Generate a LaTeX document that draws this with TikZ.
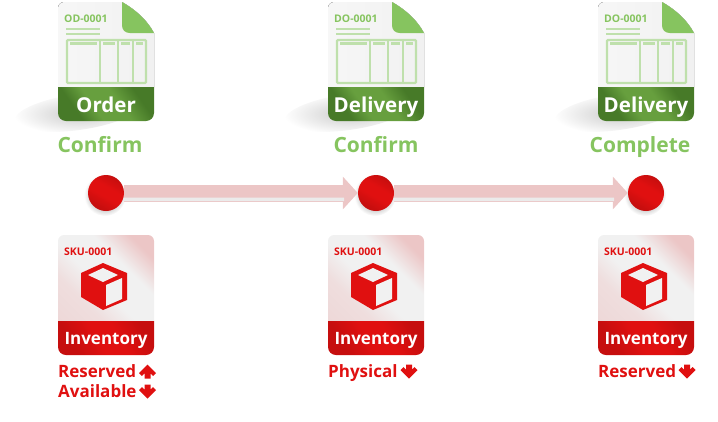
\documentclass[tikz,border=0pt]{standalone}
\usepackage{fontspec}
\setmainfont{Open Sans}
\usetikzlibrary{arrows.meta,backgrounds}
\definecolor{leaf}{HTML}{86C45F}
\definecolor{leafpale}{HTML}{BFE0AC}
\definecolor{leafdark}{HTML}{477A28}
\definecolor{leafmid}{HTML}{679F3E}
\definecolor{redmain}{HTML}{E01010}
\definecolor{reddark}{HTML}{C60E0E}
\definecolor{redpale}{HTML}{ECC6C6}
\definecolor{sheet}{HTML}{F1F1F1}
\pgfdeclarehorizontalshading{cardshade}{100bp}{color(0bp)=(redpale!70!sheet); color(32bp)=(redpale!45!sheet); color(45bp)=(sheet); color(62bp)=(sheet); color(76bp)=(redpale); color(100bp)=(redpale)}
\pgfdeclarehorizontalshading{bandshade}{100bp}{color(0bp)=(leafdark); color(30bp)=(leafdark); color(42bp)=(leafmid); color(58bp)=(leafmid); color(72bp)=(leafdark); color(100bp)=(leafdark)}
\pgfdeclarehorizontalshading{redband}{100bp}{color(0bp)=(reddark); color(28bp)=(reddark); color(45bp)=(redmain); color(58bp)=(redmain); color(75bp)=(reddark); color(100bp)=(reddark)}
\tikzset{
  statelabel/.style={font=\bfseries\fontsize{21}{21}\selectfont, text=leaf, inner sep=0pt, anchor=base},
  doctitle/.style={font=\bfseries\fontsize{20.5}{21}\selectfont, text=white, inner sep=0pt, anchor=base},
  invtitle/.style={font=\bfseries\fontsize{17}{17}\selectfont, text=white, inner sep=0pt, anchor=base},
  idlabel/.style={font=\bfseries\fontsize{10.5}{10}\selectfont, anchor=base west, inner sep=0pt},
  changelabel/.style={font=\bfseries\fontsize{17}{17}\selectfont, text=redmain, anchor=base west, inner sep=0pt},
  dot/.style={circle, minimum size=36pt, inner sep=0pt, shading=redband, shading angle=60},
  flow/.style={line width=17pt, redpale, -{Triangle[length=15pt,width=32pt]}},
  tablerule/.style={draw=leafpale, line width=2.4pt},
  arrowup/.pic={\fill[redmain] (0,-7) -- (8.5,1.5) -- (5.6,4.4) -- (3,1.8) -- (3,7) -- (-3,7) -- (-3,1.8) -- (-5.6,4.4) -- (-8.5,1.5) -- cycle;},
  arrowdown/.pic={\fill[redmain] (0,7) -- (8.5,-1.5) -- (5.6,-4.4) -- (3,-1.8) -- (3,-7) -- (-3,-7) -- (-3,-1.8) -- (-5.6,-4.4) -- (-8.5,-1.5) -- cycle;}
}
\begin{document}
\begin{tikzpicture}[x=1pt, y=-1pt]
  \useasboundingbox (0,0) rectangle (718,421);
  % one column per step
  \foreach \n/\s/\id/\title/\state/\sx in {1/0/OD-0001/Order/Confirm/100, 2/270/DO-0001/Delivery/Confirm/376, 3/540/DO-0001/Delivery/Complete/640} {
    \begin{pgfonlayer}{background}
      \begin{scope}[xshift=\s pt]
        % shadows
        \shade[inner color=black!20, outer color=white, rotate around={8:(78,112)}] (78,112) ellipse (64 and 18);
        \shade[inner color=black!60, outer color=white] (105,195) circle (21);
      \end{scope}
    \end{pgfonlayer}
    \begin{scope}[xshift=\s pt]
      % document
      \fill[left color=sheet!60!white, right color=sheet] (64,2) -- (122,2) .. controls (136,10) and (147,20) .. (154,33) -- (154,87) -- (58,87) -- (58,8) arc[start angle=180, end angle=270, radius=6] -- cycle;
      \fill[leaf] (122,2) .. controls (136,10) and (147,20) .. (154,33) -- (130,33) .. controls (125,33) and (122,30) .. (122,25) -- cycle;
      \shade[shading=bandshade, shading angle=35] (58,87) -- (154,87) -- (154,113) arc[start angle=0, end angle=90, radius=8] -- (66,121) arc[start angle=90, end angle=180, radius=8] -- cycle;
      \node[idlabel, text=leaf] (id\n) at (64,22) {\id};
      \draw[leafpale, line width=2.4pt] (66,29) -- (100,29) (66,34) -- (100,34);
      \draw[tablerule, rounded corners=1pt] (67,40) rectangle (146,83);
      \draw[tablerule] (100,40) -- (100,83) (118,40) -- (118,83) (133,40) -- (133,83);
      \draw[leafpale, line width=3pt] (70,43) -- (97,43) (103,43) -- (115,43) (121,43) -- (130,43) (136,43) -- (143,43);
      \node[doctitle] (title\n) at (106,112) {\title};
      % inventory card
      \shade[shading=cardshade, shading angle=45] (64,235) -- (148,235) arc[start angle=270, end angle=360, radius=6] -- (154,321) -- (58,321) -- (58,241) arc[start angle=180, end angle=270, radius=6] -- cycle;
      \shade[shading=redband, shading angle=30] (58,321) -- (154,321) -- (154,347) arc[start angle=0, end angle=90, radius=8] -- (66,355) arc[start angle=90, end angle=180, radius=8] -- cycle;
      \node[idlabel, text=redmain] (sku\n) at (64,255) {SKU-0001};
      \fill[redmain] (103,263) -- (127,273) -- (127,300) -- (103,310) -- (81,297) -- (81,273) -- cycle;
      \fill[sheet] (103,268) -- (118,275) -- (103,282) -- (88,275) -- cycle;
      \fill[sheet] (106,285) -- (122,278) -- (122,299) -- (106,306) -- cycle;
      \node[invtitle] (inv\n) at (106,344.5) {Inventory};
    \end{scope}
    \node[statelabel] (state\n) at (\sx,152) {\state};
    \pgfmathsetmacro{\dx}{106+\s}
    \node[dot] (dot\n) at (\dx,193) {};
  }
  \begin{pgfonlayer}{background}
    \draw[flow] (dot1) -- (dot2);
    \draw[flow] (dot2) -- (dot3);
    \fill[black!8] (122,197.5) rectangle (344,201) (392,197.5) rectangle (614,201);
  \end{pgfonlayer}
  % what changes
  \node[changelabel] (res1) at (58,377) {Reserved};
  \node[changelabel] (ava1) at (58,397) {Available};
  \node[changelabel] (phy2) at (328,377) {Physical};
  \node[changelabel] (res3) at (598,377) {Reserved};
  \pic at (147.5,371.5) {arrowup};
  \pic at (147.5,391.5) {arrowdown};
  \pic at (409,371.5) {arrowdown};
  \pic at (687,371.5) {arrowdown};
\end{tikzpicture}
\end{document}
